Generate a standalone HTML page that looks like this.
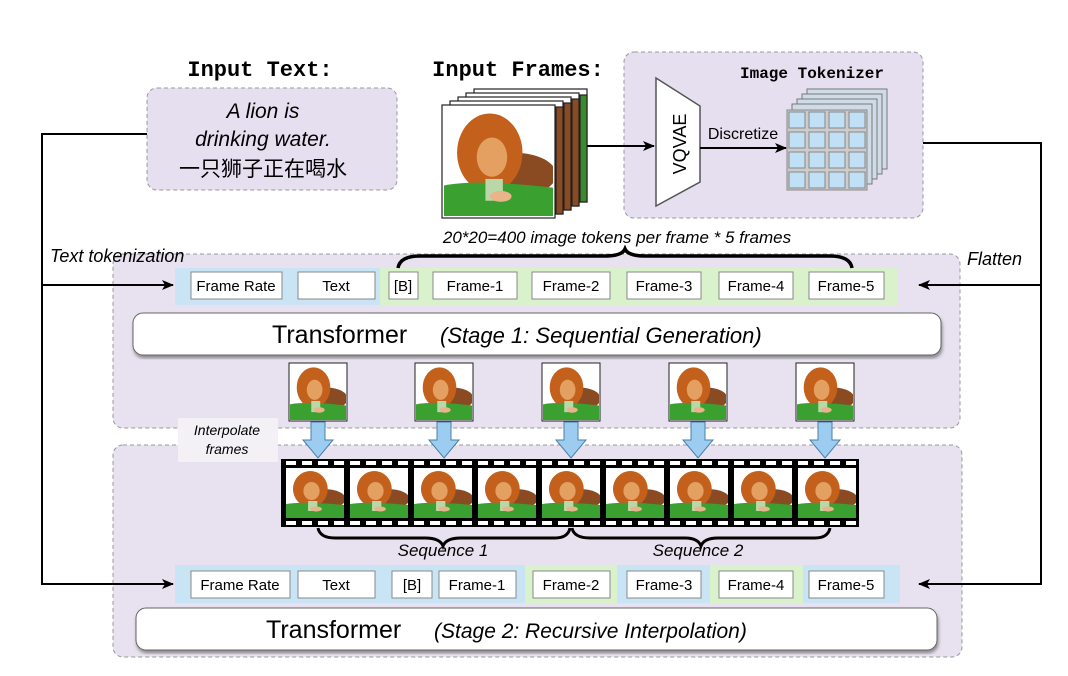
<!DOCTYPE html>
<html><head><meta charset="utf-8"><style>
html,body{margin:0;padding:0;background:#fff;}
svg{display:block;}
.mono{font-family:"Liberation Mono",monospace;font-weight:bold;}
.sans{font-family:"Liberation Sans","Noto Sans CJK SC",sans-serif;}
</style></head><body>
<svg width="1068" height="676" viewBox="0 0 1068 676" xmlns="http://www.w3.org/2000/svg">
<defs>
<symbol id="lion" viewBox="0 0 100 100" preserveAspectRatio="none">
<rect width="100" height="100" fill="#fff"/>
<ellipse cx="65" cy="62" rx="38" ry="20" fill="#8a4a22"/>
<ellipse cx="42" cy="42" rx="30" ry="36" fill="#c2601c"/>
<ellipse cx="44" cy="46" rx="14" ry="18" fill="#e3a060"/>
<path d="M0,72 Q30,66 100,74 L100,100 L0,100z" fill="#3aa030"/>
<rect x="38" y="66" width="16" height="20" fill="#b9d7a9"/>
<ellipse cx="52" cy="82" rx="10" ry="5" fill="#e9b48a"/>
</symbol>
<marker id="ah" markerWidth="12" markerHeight="10" refX="11" refY="5" orient="auto" markerUnits="userSpaceOnUse"><path d="M0,0 L12,5 L0,10 L3,5z" fill="#000"/></marker>
<filter id="sh"><feDropShadow dx="1" dy="3" stdDeviation="1.5" flood-color="#777" flood-opacity="0.8"/></filter>
</defs>

<rect x="113" y="254" width="847" height="174" rx="10" fill="#e8e1ef" stroke="#999" stroke-dasharray="4,3"/>
<rect x="113" y="445" width="849" height="212" rx="10" fill="#e8e1ef" stroke="#999" stroke-dasharray="4,3"/>

<text x="260" y="76" class="mono" font-size="22" text-anchor="middle">Input Text:</text>
<rect x="147" y="88" width="250" height="102" rx="10" fill="#e6dff0" stroke="#999" stroke-dasharray="4,3"/>
<text class="sans" font-size="21" font-style="italic" text-anchor="middle" x="263" y="118">A lion is</text>
<text class="sans" font-size="21" font-style="italic" text-anchor="middle" x="263" y="146">drinking water.</text>
<text class="sans" font-size="21" text-anchor="middle" x="263" y="176">一只狮子正在喝水</text>

<text x="518" y="76" class="mono" font-size="22" text-anchor="middle">Input Frames:</text>
<g stroke="#222" stroke-width="1.2">
<rect x="474" y="89" width="113" height="113" fill="#fff"/><rect x="580" y="95" width="7" height="107" fill="#3a8a30"/>
<rect x="466" y="93" width="113" height="113" fill="#fff"/><rect x="572" y="99" width="7" height="107" fill="#8a4a22"/>
<rect x="458" y="97" width="113" height="113" fill="#fff"/><rect x="564" y="103" width="7" height="107" fill="#8a4a22"/>
<rect x="450" y="101" width="113" height="113" fill="#fff"/><rect x="556" y="107" width="7" height="107" fill="#8a4a22"/>
<rect x="442" y="105" width="113" height="113" fill="#fff"/>
</g>
<use href="#lion" x="444" y="107" width="109" height="109"/>

<rect x="624" y="52" width="299" height="166" rx="10" fill="#e6dff0" stroke="#999" stroke-dasharray="4,3"/>
<line x1="587" y1="146" x2="654" y2="146" stroke="#000" stroke-width="2" marker-end="url(#ah)"/>
<text x="812" y="78" class="mono" font-size="16" text-anchor="middle">Image Tokenizer</text>
<path d="M656,78 L700,106 L700,182 L656,206z" fill="#fff" stroke="#555" stroke-width="1.5"/>
<text transform="translate(686,144) rotate(-90)" class="sans" font-size="18" text-anchor="middle">VQVAE</text>
<text x="743" y="139" class="sans" font-size="16" text-anchor="middle">Discretize</text>
<line x1="700" y1="148" x2="786" y2="148" stroke="#000" stroke-width="2" marker-end="url(#ah)"/>
<g stroke="#777" fill="#cfdce8">
<rect x="807" y="89" width="80" height="80"/><rect x="802" y="94" width="80" height="80"/><rect x="797" y="99" width="80" height="80"/><rect x="792" y="104" width="80" height="80"/>
</g>
<rect x="787" y="110" width="80" height="80" fill="#ccc" stroke="#888"/>
<g fill="#bfe0f5" stroke="#888">
<rect x="789" y="112" width="16" height="16"/><rect x="809" y="112" width="16" height="16"/><rect x="829" y="112" width="16" height="16"/><rect x="849" y="112" width="16" height="16"/>
<rect x="789" y="132" width="16" height="16"/><rect x="809" y="132" width="16" height="16"/><rect x="829" y="132" width="16" height="16"/><rect x="849" y="132" width="16" height="16"/>
<rect x="789" y="152" width="16" height="16"/><rect x="809" y="152" width="16" height="16"/><rect x="829" y="152" width="16" height="16"/><rect x="849" y="152" width="16" height="16"/>
<rect x="789" y="172" width="16" height="16"/><rect x="809" y="172" width="16" height="16"/><rect x="829" y="172" width="16" height="16"/><rect x="849" y="172" width="16" height="16"/>
</g>

<polyline points="147,134 42,134 42,584 173,584" fill="none" stroke="#000" stroke-width="2" marker-end="url(#ah)"/>
<line x1="42" y1="285" x2="173" y2="285" stroke="#000" stroke-width="2" marker-end="url(#ah)"/>
<polyline points="923,143 1041,143 1041,584 919,584" fill="none" stroke="#000" stroke-width="2" marker-end="url(#ah)"/>
<line x1="1041" y1="285" x2="919" y2="285" stroke="#000" stroke-width="2" marker-end="url(#ah)"/>
<text x="50" y="262" class="sans" font-size="18" font-style="italic">Text tokenization</text>
<text x="967" y="265" class="sans" font-size="18" font-style="italic">Flatten</text>
<text x="617" y="243" class="sans" font-size="17" font-style="italic" text-anchor="middle">20*20=400 image tokens per frame  *  5 frames</text>

<rect x="175" y="268" width="205" height="37" fill="#c9e4f5"/>
<rect x="380" y="268" width="518" height="37" fill="#d9f2cc"/>
<path d="M398,268 Q400,256 420,256 L605,256 Q622,256 625,249 Q628,256 645,256 L830,256 Q850,256 852,268" fill="none" stroke="#000" stroke-width="3.5"/>
<g fill="#fff" stroke="#888">
<rect x="191" y="272" width="91" height="27"/><rect x="298" y="272" width="77" height="27"/><rect x="389" y="272" width="29" height="27"/><rect x="433" y="272" width="84" height="27"/><rect x="532" y="272" width="78" height="27"/><rect x="627" y="272" width="74" height="27"/><rect x="719" y="272" width="74" height="27"/><rect x="809" y="272" width="75" height="27"/>
</g>
<g class="sans" font-size="15" text-anchor="middle">
<text x="236" y="291">Frame Rate</text><text x="336" y="291">Text</text><text x="403" y="291">[B]</text><text x="475" y="291">Frame-1</text><text x="571" y="291">Frame-2</text><text x="664" y="291">Frame-3</text><text x="756" y="291">Frame-4</text><text x="846" y="291">Frame-5</text>
</g>
<rect x="133" y="313" width="808" height="42" rx="10" fill="#fff" stroke="#666" filter="url(#sh)"/>
<text x="272" y="343" class="sans" font-size="25">Transformer</text>
<text x="440" y="343" class="sans" font-size="22" font-style="italic">(Stage 1: Sequential Generation)</text>

<g stroke="#222" fill="#fff"><rect x="289" y="363" width="58" height="58"/><rect x="415" y="363" width="58" height="58"/><rect x="542" y="363" width="58" height="58"/><rect x="669" y="363" width="58" height="58"/><rect x="796" y="363" width="58" height="58"/></g>
<use href="#lion" x="290" y="364" width="56" height="56"/><use href="#lion" x="416" y="364" width="56" height="56"/><use href="#lion" x="543" y="364" width="56" height="56"/><use href="#lion" x="670" y="364" width="56" height="56"/><use href="#lion" x="797" y="364" width="56" height="56"/>
<g fill="#9ccdf0" stroke="#4a7fa8">
<path d="M311,422 h14 v18 h8 l-15,18 l-15,-18 h8z"/><path d="M437,422 h14 v18 h8 l-15,18 l-15,-18 h8z"/><path d="M564,422 h14 v18 h8 l-15,18 l-15,-18 h8z"/><path d="M691,422 h14 v18 h8 l-15,18 l-15,-18 h8z"/><path d="M818,422 h14 v18 h8 l-15,18 l-15,-18 h8z"/>
</g>
<rect x="178" y="418" width="100" height="44" fill="#f3f1f5"/>
<text x="227" y="435" class="sans" font-size="14" font-style="italic" text-anchor="middle">Interpolate</text>
<text x="227" y="454" class="sans" font-size="14" font-style="italic" text-anchor="middle">frames</text>

<rect x="281" y="459" width="578" height="68" fill="#000"/>
<g fill="#fff" id="holes">
<rect x="286" y="461" width="10" height="4"/><rect x="302" y="461" width="10" height="4"/><rect x="318" y="461" width="10" height="4"/><rect x="334" y="461" width="10" height="4"/><rect x="350" y="461" width="10" height="4"/><rect x="366" y="461" width="10" height="4"/><rect x="382" y="461" width="10" height="4"/><rect x="398" y="461" width="10" height="4"/><rect x="414" y="461" width="10" height="4"/><rect x="430" y="461" width="10" height="4"/><rect x="446" y="461" width="10" height="4"/><rect x="462" y="461" width="10" height="4"/><rect x="478" y="461" width="10" height="4"/><rect x="494" y="461" width="10" height="4"/><rect x="510" y="461" width="10" height="4"/><rect x="526" y="461" width="10" height="4"/><rect x="542" y="461" width="10" height="4"/><rect x="558" y="461" width="10" height="4"/><rect x="574" y="461" width="10" height="4"/><rect x="590" y="461" width="10" height="4"/><rect x="606" y="461" width="10" height="4"/><rect x="622" y="461" width="10" height="4"/><rect x="638" y="461" width="10" height="4"/><rect x="654" y="461" width="10" height="4"/><rect x="670" y="461" width="10" height="4"/><rect x="686" y="461" width="10" height="4"/><rect x="702" y="461" width="10" height="4"/><rect x="718" y="461" width="10" height="4"/><rect x="734" y="461" width="10" height="4"/><rect x="750" y="461" width="10" height="4"/><rect x="766" y="461" width="10" height="4"/><rect x="782" y="461" width="10" height="4"/><rect x="798" y="461" width="10" height="4"/><rect x="814" y="461" width="10" height="4"/><rect x="830" y="461" width="10" height="4"/><rect x="846" y="461" width="10" height="4"/>
</g>
<use href="#holes" x="0" y="60"/>
<use href="#lion" x="286" y="468" width="58" height="50"/><use href="#lion" x="350" y="468" width="58" height="50"/><use href="#lion" x="414" y="468" width="58" height="50"/><use href="#lion" x="478" y="468" width="58" height="50"/><use href="#lion" x="542" y="468" width="58" height="50"/><use href="#lion" x="606" y="468" width="58" height="50"/><use href="#lion" x="670" y="468" width="58" height="50"/><use href="#lion" x="734" y="468" width="58" height="50"/><use href="#lion" x="798" y="468" width="58" height="50"/>

<path d="M318,528 Q320,538 335,538 L425,538 Q440,538 443,546 Q446,538 461,538 L555,538 Q568,538 570,528" fill="none" stroke="#000" stroke-width="3"/>
<path d="M572,528 Q574,538 590,538 L685,538 Q698,538 701,546 Q704,538 718,538 L815,538 Q828,538 830,528" fill="none" stroke="#000" stroke-width="3"/>
<text x="443" y="556" class="sans" font-size="17" font-style="italic" text-anchor="middle">Sequence 1</text>
<text x="698" y="556" class="sans" font-size="17" font-style="italic" text-anchor="middle">Sequence 2</text>

<rect x="175" y="565" width="725" height="38" fill="#c9e4f5"/>
<rect x="525" y="565" width="92" height="38" fill="#d9f2cc"/>
<rect x="710" y="565" width="93" height="38" fill="#d9f2cc"/>
<g fill="#fff" stroke="#888">
<rect x="191" y="571" width="99" height="27"/><rect x="298" y="571" width="77" height="27"/><rect x="392" y="571" width="40" height="27"/><rect x="439" y="571" width="77" height="27"/><rect x="533" y="571" width="77" height="27"/><rect x="627" y="571" width="74" height="27"/><rect x="719" y="571" width="74" height="27"/><rect x="809" y="571" width="75" height="27"/>
</g>
<g class="sans" font-size="15" text-anchor="middle">
<text x="240" y="590">Frame Rate</text><text x="336" y="590">Text</text><text x="412" y="590">[B]</text><text x="477" y="590">Frame-1</text><text x="571" y="590">Frame-2</text><text x="664" y="590">Frame-3</text><text x="756" y="590">Frame-4</text><text x="846" y="590">Frame-5</text>
</g>
<rect x="136" y="608" width="801" height="42" rx="10" fill="#fff" stroke="#666" filter="url(#sh)"/>
<text x="266" y="638" class="sans" font-size="25">Transformer</text>
<text x="434" y="638" class="sans" font-size="21" font-style="italic">(Stage 2: Recursive Interpolation)</text>
</svg>
</body></html>
